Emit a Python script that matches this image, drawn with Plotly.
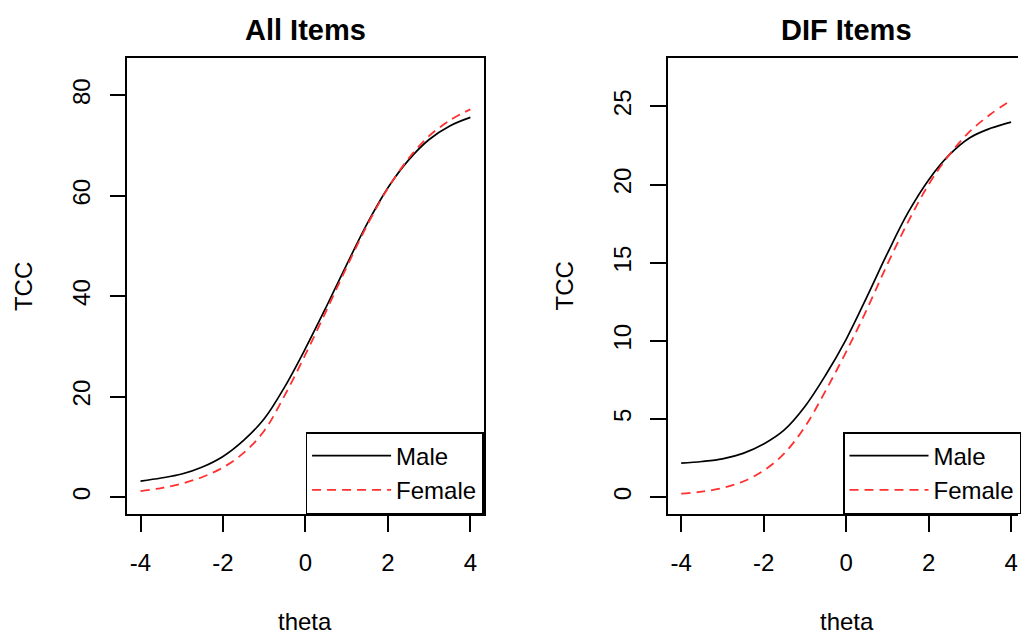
import plotly.graph_objects as go

# ---- data ----
theta = [-4, -3.5, -3, -2.5, -2, -1.5, -1, -0.5, 0, 0.5, 1, 1.5, 2, 2.5, 3, 3.5, 4]

all_male = [3.2, 3.8, 4.6, 6.0, 8.1, 11.3, 15.6, 22.0, 29.6, 37.8, 46.3, 54.5, 61.6, 67.1, 71.2, 73.9, 75.6]
all_female = [1.2, 1.8, 2.7, 4.0, 5.9, 8.8, 13.2, 20.3, 28.4, 37.0, 45.8, 54.2, 61.5, 67.4, 71.9, 75.0, 77.2]

dif_male = [2.17, 2.28, 2.45, 2.8, 3.4, 4.3, 5.8, 7.8, 10.1, 12.8, 15.6, 18.2, 20.3, 21.9, 23.0, 23.6, 24.0]
dif_female = [0.22, 0.35, 0.58, 1.0, 1.7, 2.8, 4.5, 6.8, 9.3, 12.0, 14.9, 17.6, 20.0, 21.9, 23.4, 24.5, 25.4]

x_ticks = [-4, -2, 0, 2, 4]
x_ticktext = ["-4", "-2", "0", "2", "4"]
y_ticks_all = [0, 20, 40, 60, 80]
y_ticks_dif = [0, 5, 10, 15, 20, 25]
titles = ["All Items", "DIF Items"]
x_label = "theta"
y_label = "TCC"
series_names = ["Male", "Female"]

FONT = "Liberation Sans, Arial, Helvetica, sans-serif"
W, H = 1021, 635

MALE_STYLE = dict(color="black", width=1.7)
FEMALE_STYLE = dict(color="#ff3030", width=1.8, dash="9px,6px")

fig = go.Figure()
fig.add_trace(go.Scatter(x=theta, y=all_male, mode="lines", name=series_names[0],
                         line=dict(shape="spline", **MALE_STYLE), xaxis="x", yaxis="y", legend="legend"))
fig.add_trace(go.Scatter(x=theta, y=all_female, mode="lines", name=series_names[1],
                         line=dict(shape="spline", **FEMALE_STYLE), xaxis="x", yaxis="y", legend="legend"))
fig.add_trace(go.Scatter(x=theta, y=dif_male, mode="lines", name=series_names[0],
                         line=dict(shape="spline", **MALE_STYLE), xaxis="x2", yaxis="y2", legend="legend2"))
fig.add_trace(go.Scatter(x=theta, y=dif_female, mode="lines", name=series_names[1],
                         line=dict(shape="spline", **FEMALE_STYLE), xaxis="x2", yaxis="y2", legend="legend2"))

# plot-area geometry in pixels
L1, R1 = 127.7, 485.0
L2, R2 = 670.0, 1021.0
TOP, BOT = 58.3, 514.0
px = lambda v: v / W
py = lambda v: 1 - v / H

axis_common = dict(
    showline=True, linecolor="black", linewidth=1.5,
    ticks="outside", ticklen=16, tickwidth=1.5, tickcolor="black",
    showgrid=False, zeroline=False,
    tickfont=dict(family=FONT, size=24, color="black"),
    automargin=False, fixedrange=True,
)

legend_common = dict(
    y=py(BOT), yanchor="bottom",
    bgcolor="white", bordercolor="black", borderwidth=1.5,
    font=dict(family=FONT, size=24, color="black"), itemwidth=79,
)

fig.update_layout(
    width=W, height=H,
    margin=dict(l=0, r=0, t=0, b=0),
    paper_bgcolor="white", plot_bgcolor="white",
    font=dict(family=FONT, size=24, color="black"),
    xaxis=dict(domain=[px(L1), px(R1)], range=[-4.32, 4.32], tickvals=x_ticks, ticktext=x_ticktext,
               mirror=True, anchor="y", ticklabelstandoff=10, **axis_common),
    yaxis=dict(domain=[py(BOT), py(TOP)], range=[-3.36, 87.36], tickvals=y_ticks_all,
               mirror=True, anchor="x", tickangle=-90, ticklabelstandoff=10, **axis_common),
    xaxis2=dict(domain=[px(L2), 1.0], range=[-4.32, -4.32 + (R2 - L2) / ((R1 - L1) / 8.64)],
                tickvals=x_ticks, ticktext=x_ticktext, mirror=True, anchor="y2", ticklabelstandoff=10,
                **axis_common),
    yaxis2=dict(domain=[py(BOT), py(TOP)], range=[-1.08, 28.08], tickvals=y_ticks_dif,
                mirror=False, anchor="x2", tickangle=-90, ticklabelstandoff=10, **axis_common),
    legend=dict(x=px(R1), xanchor="right", **legend_common),
    legend2=dict(x=px(845.7), xanchor="left", **legend_common),
    showlegend=True,
)

annos = []
annos.append(dict(text="<b>%s</b>" % titles[0], x=px((L1 + R1) / 2), y=py(30), xref="paper", yref="paper",
                  showarrow=False, xanchor="center", yanchor="middle", font=dict(size=29, family=FONT)))
annos.append(dict(text="<b>%s</b>" % titles[1], x=px(849), y=py(30), xref="paper", yref="paper",
                  showarrow=False, xanchor="center", yanchor="middle", font=dict(size=29, family=FONT)))
annos.append(dict(text=x_label, x=px((L1 + R1) / 2), y=py(621), xref="paper", yref="paper",
                  showarrow=False, xanchor="center", yanchor="middle", font=dict(size=24, family=FONT)))
annos.append(dict(text=x_label, x=px(849), y=py(621), xref="paper", yref="paper",
                  showarrow=False, xanchor="center", yanchor="middle", font=dict(size=24, family=FONT)))
annos.append(dict(text=y_label, x=px(23), y=py((TOP + BOT) / 2), xref="paper", yref="paper", textangle=-90,
                  showarrow=False, xanchor="center", yanchor="middle", font=dict(size=24, family=FONT)))
annos.append(dict(text=y_label, x=px(566), y=py((TOP + BOT) / 2), xref="paper", yref="paper", textangle=-90,
                  showarrow=False, xanchor="center", yanchor="middle", font=dict(size=24, family=FONT)))
fig.update_layout(annotations=annos)

fig.write_html("out.html")
